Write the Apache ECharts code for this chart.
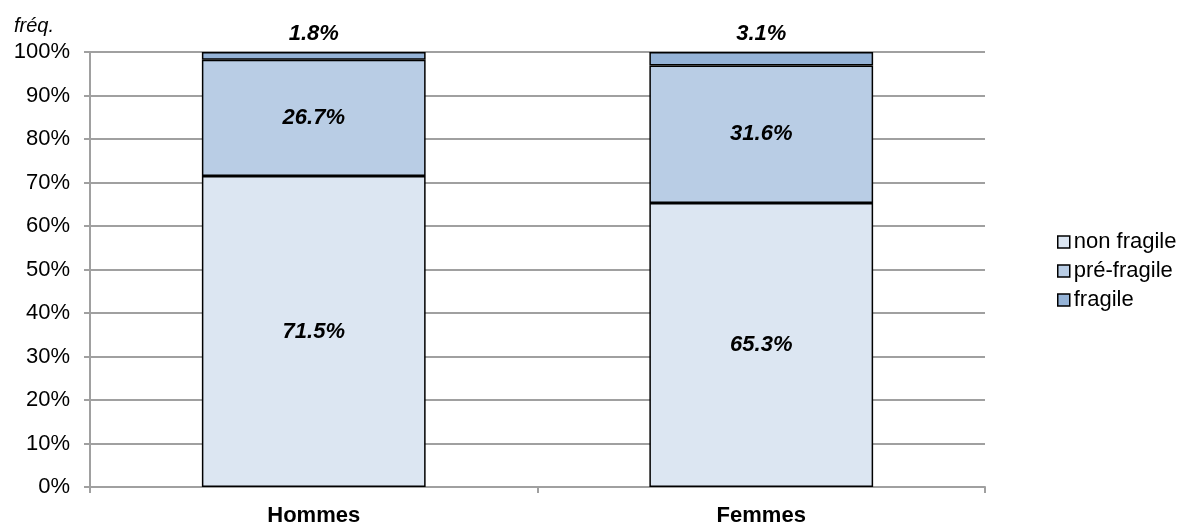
<!DOCTYPE html>
<html>
<head>
<meta charset="utf-8">
<script src="https://cdn.jsdelivr.net/npm/echarts@6/dist/echarts.min.js"></script>
<style>
  html, body { margin: 0; padding: 0; background: #fff; }
  #chart { width: 1185px; height: 527px; }
</style>
</head>
<body>
<div id="chart"></div>
<script>
  // données
  var categories = ['Hommes', 'Femmes'];
  var nonFragile = [71.5, 65.3];
  var preFragile = [26.7, 31.6];
  var fragile = [1.8, 3.1];
  var yTicks = [0, 10, 20, 30, 40, 50, 60, 70, 80, 90, 100];

  var myChart = echarts.init(document.getElementById('chart'));

  function lbl(pos) {
    return {
      show: true,
      position: pos,
      formatter: function (p) { return p.value.toFixed(1) + '%'; },
      fontFamily: 'Liberation Sans, Arial, sans-serif',
      fontSize: 22,
      fontStyle: 'italic',
      fontWeight: 'bold',
      color: '#000',
      distance: 7
    };
  }

  var option = {
    animation: false,
    backgroundColor: '#fff',
    grid: { left: 90, right: 200, top: 52, bottom: 39, containLabel: false },
    graphic: [{
      type: 'text',
      left: 14,
      top: 16,
      style: {
        text: 'fréq.',
        font: 'italic 20px "Liberation Sans", Arial, sans-serif',
        fill: '#000'
      }
    }],
    legend: {
      orient: 'vertical',
      left: 1052,
      top: 226,
      itemWidth: 12,
      itemHeight: 12,
      itemGap: 7,
      icon: 'rect',
      itemStyle: { borderColor: '#000', borderWidth: 1.5 },
      textStyle: { fontFamily: 'Liberation Sans, Arial, sans-serif', fontSize: 22, color: '#000', padding: [0, 0, 0, -1] },
      data: ['non fragile', 'pré-fragile', 'fragile']
    },
    xAxis: {
      type: 'category',
      data: categories,
      axisLine: { show: true, lineStyle: { color: '#a0a0a0', width: 2 } },
      axisTick: { show: true, length: 6, lineStyle: { color: '#a0a0a0', width: 2 } },
      axisLabel: {
        fontFamily: 'Liberation Sans, Arial, sans-serif',
        fontSize: 22,
        fontWeight: 'bold',
        color: '#000',
        margin: 18
      },
      splitLine: { show: false }
    },
    yAxis: {
      type: 'value',
      min: 0,
      max: 100,
      interval: 10,
      axisLine: { show: true, lineStyle: { color: '#a0a0a0', width: 2 } },
      axisTick: { show: true, inside: false, length: 6, lineStyle: { color: '#a0a0a0', width: 2 } },
      axisLabel: {
        formatter: function (v) { return yTicks.indexOf(v) >= 0 ? v + '%' : ''; },
        fontFamily: 'Liberation Sans, Arial, sans-serif',
        fontSize: 22,
        color: '#000',
        margin: 20
      },
      splitLine: { show: true, lineStyle: { color: '#a0a0a0', width: 2 } }
    },
    series: [
      {
        name: 'non fragile',
        type: 'bar',
        stack: 'total',
        barWidth: '50%',
        data: nonFragile,
        itemStyle: { color: '#dce6f2', borderColor: '#000', borderWidth: 1.5 },
        label: lbl('inside')
      },
      {
        name: 'pré-fragile',
        type: 'bar',
        stack: 'total',
        data: preFragile,
        itemStyle: { color: '#b9cde5', borderColor: '#000', borderWidth: 1.5 },
        label: lbl('inside')
      },
      {
        name: 'fragile',
        type: 'bar',
        stack: 'total',
        data: fragile,
        itemStyle: { color: '#95b3d7', borderColor: '#000', borderWidth: 1.5 },
        label: lbl('top')
      }
    ]
  };

  myChart.setOption(option);
</script>
</body>
</html>
